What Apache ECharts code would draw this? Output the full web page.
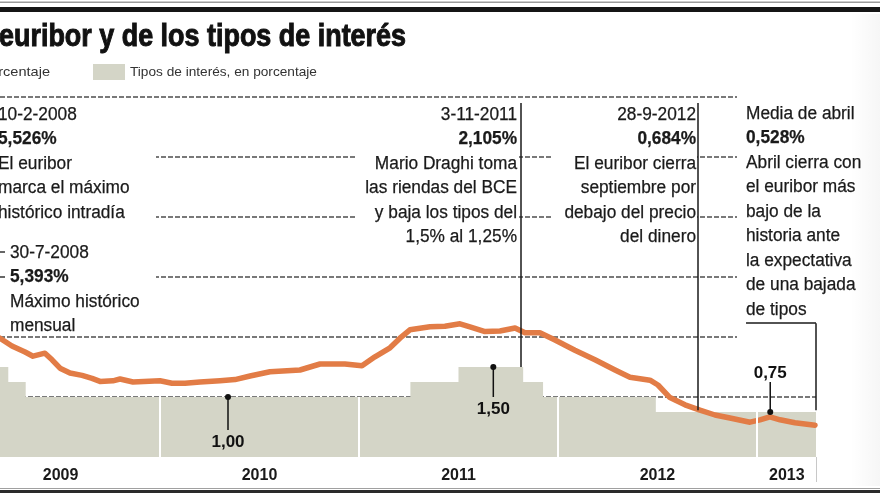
<!DOCTYPE html>
<html><head><meta charset="utf-8">
<script src="https://cdn.jsdelivr.net/npm/echarts@6/dist/echarts.min.js"></script>
<style>html,body{margin:0;padding:0;background:#fff}#c{width:880px;height:495px}</style>
</head><body><div id="c"></div>
<script>
// x values are months since 1 Jan 2009 (12 = Jan 2010, 24 = Jan 2011 ...)
const xMin = 2.35, xMax = 51.56;
const euriborMonths = [2.35,3.07,3.86,4.34,5.06,5.49,5.97,6.57,7.3,7.9,8.38,9.16,9.59,10.37,12.0,12.72,13.51,14.41,15.62,16.52,17.43,18.63,20.44,21.65,23.15,24.18,24.96,25.87,26.47,27.07,28.28,29.18,30.09,30.69,31.6,32.5,33.41,34.01,34.91,35.82,37.02,38.23,39.44,40.34,41.55,42.03,42.75,43.66,44.56,45.47,46.37,47.58,48.18,48.78,49.39,50.29,51.5];
const euriborValues = [1.98,1.85,1.75,1.68,1.73,1.62,1.48,1.4,1.36,1.31,1.26,1.27,1.3,1.25,1.27,1.23,1.23,1.25,1.27,1.29,1.35,1.42,1.45,1.55,1.55,1.52,1.67,1.82,1.98,2.12,2.17,2.18,2.22,2.17,2.09,2.1,2.15,2.07,2.07,1.95,1.78,1.62,1.45,1.33,1.28,1.2,0.99,0.87,0.78,0.7,0.65,0.58,0.62,0.67,0.62,0.57,0.53];
const rateMonths = [2.35,2.85,3.9,27.1,30.0,33.9,35.1,41.9,51.56];
const rateValues = [1.5,1.25,1.0,1.25,1.5,1.25,1.0,0.75,0.75];
const yearLabels = ['2009','2010','2011','2012','2013'];
const yearLabelMonths = [6,18,30,42,49.8];
const yearStarts = [12,24,36,48];
const yearStartRates = [1.0,1.0,1.0,0.75];
const calloutMonths = [16.1,32.1,48.8];
const calloutValues = [1.0,1.5,0.75];
const calloutLabels = ['1,00','1,50','0,75'];
const yTicks = [0,1,2,3,4,5,6];
// annotation pointers: [month, top value, bottom value]
const pointerDraghi = [33.77,5.9,1.5];
const pointerSept = [44.44,5.9,0.78];
const bracketApril = [47.34,51.56,2.23,0.78];

const FONT = "'Liberation Sans', Arial, sans-serif";
const chart = echarts.init(document.getElementById('c'), null, {renderer:'canvas'});

const cv = document.createElement('canvas').getContext('2d');
function fitScale(text, font, target){ cv.font = font; return target / cv.measureText(text).width; }

const g = [];
function rect(x,y,w,h,fill,z){ g.push({type:'rect', z:z||1, shape:{x,y,width:w,height:h}, style:{fill}, silent:true}); }
function line(x1,y1,x2,y2,stroke,w,z){ g.push({type:'line', z:z||10, shape:{x1,y1,x2,y2}, style:{stroke,lineWidth:w}, silent:true}); }
function txt(text,x,y,opt){
  opt = opt||{};
  const font = (opt.bold?'bold ':'') + (opt.size||18) + 'px ' + FONT;
  const style = {text, font, fill: opt.fill||'#1a1a1a', align: opt.align||'left', textAlign: opt.align||'left', verticalAlign:'middle', textVerticalAlign:'middle'};
  if (opt.stroke) { style.stroke = opt.fill||'#1a1a1a'; style.lineWidth = opt.stroke; }
  g.push({type:'text', z:20, x, y, scaleX: opt.scale||1, silent:true, style});
}

// frame
rect(0,1.5,880,1.5,'#9a9a9a',30);
rect(0,7,880,5,'#151515',30);
rect(0,488,880,1,'#a0a0a0',30);
rect(0,490,880,3,'#2a2a2a',30);
// title
const titleText = 'euribor y de los tipos de interés';
const titleFont = 'bold 31px ' + FONT;
txt(titleText,-1,37,{bold:true,size:31,scale:fitScale(titleText,titleFont,407),fill:'#111',stroke:1});
// legend
txt('Euribor, en porcentaje',50,72,{size:13,align:'right',fill:'#333',scale:1.12});
rect(93,64,32,16,'#d4d5c7',5);
txt('Tipos de interés, en porcentaje',130,72,{size:13,fill:'#333',scale:1.05});

// white backgrounds for annotation blocks (hide gridlines behind text)
rect(0,100,156,232,'#fff',1);
rect(357,100,162,155,'#fff',1);
rect(553,100,144,155,'#fff',1);
rect(737,88,143,254,'#fff',1);

const S = 0.96, LH = 24.5;
function block(lines, x, y0, align){
  lines.forEach((l,i)=>txt(l.t, x, y0 + i*LH, {bold:l.b, align, scale:S, stroke:0.25}));
}
block([{t:'10-2-2008'},{t:'5,526%',b:true},{t:'El euribor'},{t:'marca el máximo'},{t:'histórico intradía'}], -2, 115, 'left');
block([{t:'30-7-2008'},{t:'5,393%',b:true},{t:'Máximo histórico'},{t:'mensual'}], 10, 253, 'left');
line(0,252,5,252,'#333',1.5); line(0,277,5,277,'#333',1.5);
block([{t:'3-11-2011'},{t:'2,105%',b:true},{t:'Mario Draghi toma'},{t:'las riendas del BCE'},{t:'y baja los tipos del'},{t:'1,5% al 1,25%'}], 517, 115, 'right');
block([{t:'28-9-2012'},{t:'0,684%',b:true},{t:'El euribor cierra'},{t:'septiembre por'},{t:'debajo del precio'},{t:'del dinero'}], 696, 115, 'right');
block([{t:'Media de abril'},{t:'0,528%',b:true},{t:'Abril cierra con'},{t:'el euribor más'},{t:'bajo de la'},{t:'historia ante'},{t:'la expectativa'},{t:'de una bajada'},{t:'de tipos'}], 746, 114, 'left');
// axis end tick
line(816.5,457,816.5,482,'#c8c8c8',1,5);
// faint page shade at right
g.push({type:'rect', z:2, shape:{x:850,y:14,width:30,height:472}, silent:true,
  style:{fill:new echarts.graphic.LinearGradient(0,0,1,0,[{offset:0,color:'rgba(0,0,0,0)'},{offset:1,color:'rgba(0,0,0,0.035)'}])}});

const mlStyle = {color:'#1a1a1a', width:1.5, type:'solid'};

chart.setOption({
  animation:false,
  backgroundColor:'#fff',
  grid:{left:0, right:64, top:97, bottom:38, containLabel:false},
  xAxis:{type:'value', min:xMin, max:xMax, axisLine:{show:false}, axisTick:{show:false}, axisLabel:{show:false}, splitLine:{show:false}},
  yAxis:{type:'value', min:yTicks[0], max:yTicks[yTicks.length-1], interval:1, axisLine:{show:false}, axisTick:{show:false}, axisLabel:{show:false},
    splitLine:{show:true, lineStyle:{color:['rgba(0,0,0,0)','#4d4d4d','#4d4d4d','#4d4d4d','#4d4d4d','#4d4d4d','#4d4d4d'], width:1.6, type:[5,2]}}},
  graphic:{elements:g},
  series:[
    {type:'line', name:'Tipos de interés', step:'end', data: rateMonths.map((m,i)=>[m,rateValues[i]]), showSymbol:false,
      lineStyle:{width:0}, areaStyle:{color:'#d4d5c7', opacity:1}, z:2, silent:true,
      markLine:{silent:true, symbol:['none','none'], label:{show:false}, lineStyle:{color:'#fff', width:2, type:'solid'},
        data: yearStarts.map((m,i)=>[{coord:[m,0]},{coord:[m,yearStartRates[i]]}])}},
    {type:'line', name:'Euribor', data: euriborMonths.map((m,i)=>[m,euriborValues[i]]), showSymbol:false, z:3, silent:true,
      lineStyle:{color:'#e27c46', width:5.5, join:'round', cap:'round'},
      markLine:{silent:true, symbol:['none','none'], label:{show:false}, lineStyle:mlStyle,
        data:[
          [{coord:[pointerDraghi[0],pointerDraghi[1]]},{coord:[pointerDraghi[0],pointerDraghi[2]]}],
          [{coord:[pointerSept[0],pointerSept[1]]},{coord:[pointerSept[0],pointerSept[2]]}],
          [{coord:[bracketApril[0],bracketApril[2]]},{coord:[bracketApril[1],bracketApril[2]]}],
          [{coord:[bracketApril[1],bracketApril[2]]},{coord:[bracketApril[1],bracketApril[3]]}]
        ]}},
    {type:'custom', name:'callouts', z:5, clip:false, silent:true,
      data: calloutMonths.map((m,i)=>[m,calloutValues[i]]),
      renderItem(params, api){
        const i = params.dataIndex;
        const p = api.coord([api.value(0), api.value(1)]);
        const down = i < 2;
        const len = i===0 ? 33 : 30;
        const y2 = down ? p[1]+len : p[1]-len;
        const ty = down ? y2 + 12 : y2 - 9;
        return {type:'group', children:[
          {type:'line', shape:{x1:p[0],y1:p[1],x2:p[0],y2:y2}, style:{stroke:'#111', lineWidth:1.5}},
          {type:'circle', shape:{cx:p[0],cy:p[1],r:3}, style:{fill:'#111'}},
          {type:'text', x:p[0], y:ty, style:{text:calloutLabels[i], font:'bold 17px '+FONT, fill:'#111', align:'center', textAlign:'center', verticalAlign:'middle', textVerticalAlign:'middle'}}
        ]};
      }},
    {type:'custom', name:'years', z:5, clip:false, silent:true,
      data: yearLabelMonths.map(m=>[m,0]),
      renderItem(params, api){
        const p = api.coord([api.value(0), 0]);
        return {type:'text', x:p[0], y:p[1]+19, style:{text:yearLabels[params.dataIndex], font:'bold 16px '+FONT, fill:'#1a1a1a', align:'center', textAlign:'center', verticalAlign:'middle', textVerticalAlign:'middle'}};
      }}
  ]
});
</script></body></html>
